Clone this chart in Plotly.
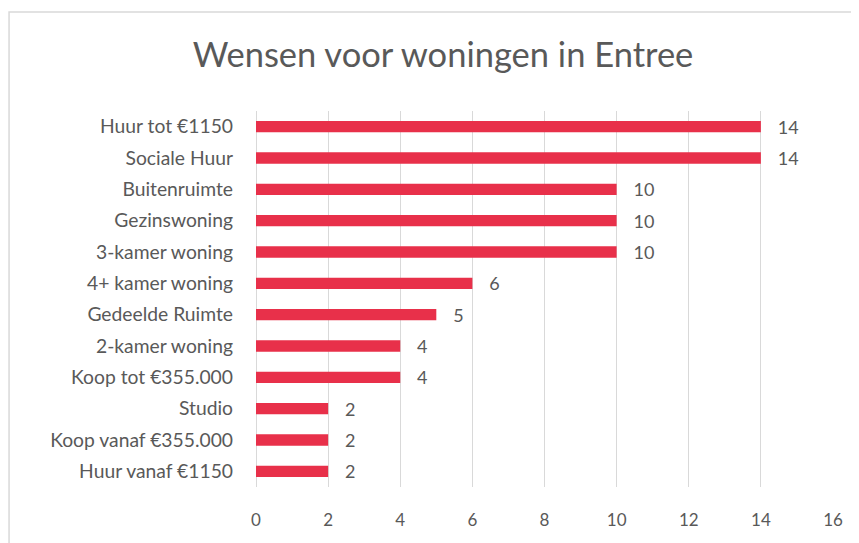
import plotly.graph_objects as go

categories = ["Huur tot €1150", "Sociale Huur", "Buitenruimte", "Gezinswoning",
              "3-kamer woning", "4+ kamer woning", "Gedeelde Ruimte", "2-kamer woning",
              "Koop tot €355.000", "Studio", "Koop vanaf €355.000", "Huur vanaf €1150"]
values = [14, 14, 10, 10, 10, 6, 5, 4, 4, 2, 2, 2]
x_ticks = [0, 2, 4, 6, 8, 10, 12, 14, 16]

FONT = "Lato, 'Open Sans', sans-serif"
GRAY = "#595959"

fig = go.Figure(go.Bar(
    y=categories[::-1], x=values[::-1], orientation="h",
    marker=dict(color="#E8304A", line=dict(width=0)),
    width=0.36,
    text=values[::-1], texttemplate="   %{text}", textposition="outside",
    constraintext="none",
    textfont=dict(size=18, color=GRAY, family=FONT),
    cliponaxis=False,
))

fig.update_layout(
    width=859, height=543,
    margin=dict(l=248, r=34, t=103, b=64),
    paper_bgcolor="white", plot_bgcolor="white",
    font=dict(family=FONT, color=GRAY),
    title=dict(text="Wensen voor woningen in Entree", x=435 / 859, xref="container",
               xanchor="center", y=1 - 47 / 543, yref="container", yanchor="middle",
               font=dict(size=34.5, color=GRAY, family=FONT)),
    xaxis=dict(range=[0, 16], tickvals=x_ticks, showgrid=True, gridcolor="#D9D9D9",
               gridwidth=1, zeroline=True, zerolinecolor="#D9D9D9", zerolinewidth=1,
               tickfont=dict(size=17, color=GRAY), ticks="", ticklabelstandoff=21),
    yaxis=dict(tickfont=dict(size=19.3, color=GRAY), ticks="", ticklabelstandoff=22,
               showgrid=False),
    showlegend=False,
    shapes=[dict(type="rect", xref="paper", yref="paper",
                 x0=-0.428, x1=1.2, y0=-0.3, y1=1.263,
                 line=dict(color="#D9D9D9", width=1.5), fillcolor="rgba(0,0,0,0)")],
)

fig.write_html("out.html")
